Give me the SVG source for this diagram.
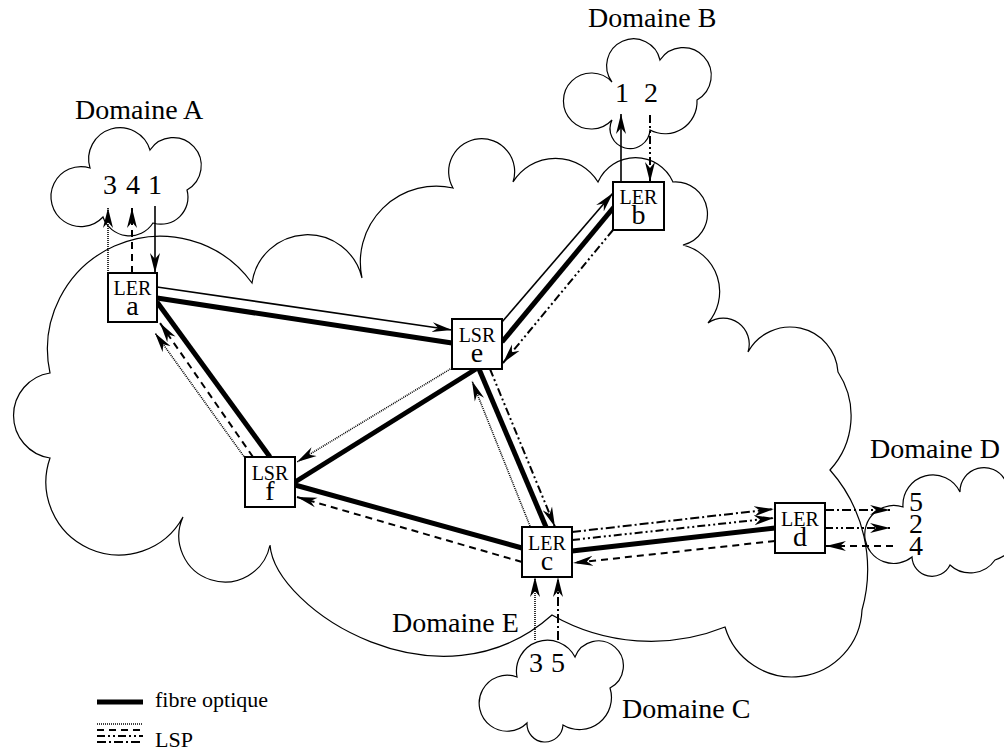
<svg xmlns="http://www.w3.org/2000/svg" width="1004" height="751" viewBox="0 0 1004 751">
  <style>
    text { font-family: "Liberation Serif", "Times New Roman", serif; fill: #000; }
    .dom { font-size: 28px; }
    .num { font-size: 28px; text-anchor: middle; }
    .lbl { text-anchor: middle; }
    .kind { font-size: 20px; }
    .id { font-size: 28px; }
    .leg { font-size: 22px; }
    .cloud { fill: none; stroke: #000; stroke-width: 1.2; }
    .box { fill: #fff; stroke: #000; stroke-width: 2; }
    .fibre { fill: none; stroke: #000; stroke-width: 5; }
    .lsp1 { fill: none; stroke: #000; stroke-width: 1.6; }
    .lsp2 { fill: none; stroke: #000; stroke-width: 2; stroke-dasharray: 8 3 2 3 2 3; }
    .lsp3 { fill: none; stroke: #000; stroke-width: 1.6; stroke-dasharray: 1 1; }
    .lsp4 { fill: none; stroke: #000; stroke-width: 2; stroke-dasharray: 7 5; }
    .lsp5 { fill: none; stroke: #000; stroke-width: 2; stroke-dasharray: 9 3 2 3; }
    .arr { marker-end: url(#head); }
  </style>
  <defs>
    <marker id="head" markerUnits="userSpaceOnUse" markerWidth="21" markerHeight="11" refX="20" refY="5.5" orient="auto">
      <path d="M0,0.5 L20,5.5 L0,10.5 L6,5.5 Z" fill="#000" stroke="none"/>
    </marker>
  </defs>

  <!-- domains (clouds) -->
  <g id="domain-E">
    <path class="cloud" d="M50,373 A113,113 0 0 1 252,283 A56,56 0 0 1 362,278 A76,76 0 0 1 453,188 A33,33 0 1 1 513,182 A50,50 0 0 1 598,182 A41,41 0 0 1 673,182 A32,32 0 0 1 683,245 A48,48 0 0 1 708,323 A26,26 0 0 1 748,352 A48,48 0 0 1 838,372 A80,80 0 0 1 830,470 A150,150 0 0 1 862,610 A70,70 0 0 1 725,627 A199,199 0 0 1 552,615 C440,715 275,610 270,545 A46,46 0 1 1 183,517 A73,73 0 0 1 50,458 A43,43 0 0 1 50,373 Z"/>
    <text class="dom" x="392" y="632">Domaine E</text>
  </g>
  <g id="domain-A">
    <path class="cloud" d="M90,168 A31,31 0 0 1 150,150 A28,28 0 1 1 187,190 A27,27 0 0 1 153,223 A28,28 0 0 1 103,217 A30,30 0 1 1 90,168 Z"/>
    <text class="dom" x="75" y="119">Domaine A</text>
    <text class="num" y="194"><tspan x="110">3</tspan><tspan x="133">4</tspan><tspan x="155">1</tspan></text>
  </g>
  <g id="domain-B">
    <path class="cloud" d="M612,82 A27,27 0 1 1 660,60 A28,28 0 1 1 697,100 A32,32 0 0 1 650,130 A20,20 0 1 1 612,120 A28,28 0 1 1 612,82 Z"/>
    <text class="dom" x="588" y="27">Domaine B</text>
    <text class="num" y="102"><tspan x="622">1</tspan><tspan x="651">2</tspan></text>
  </g>
  <g id="domain-C">
    <path class="cloud" d="M517,677 A31,31 0 0 1 575,657 A25,25 0 1 1 610,688 A32,32 0 0 1 563,725 A18,18 0 0 1 527,723 A28,28 0 1 1 517,677 Z"/>
    <text class="dom" x="622" y="718">Domaine C</text>
    <text class="num" y="672"><tspan x="536">3</tspan><tspan x="558">5</tspan></text>
  </g>
  <g id="domain-D">
    <path class="cloud" d="M903,507 A30,30 0 0 1 960,492 A24,24 0 0 1 1005,480 A45,45 0 0 1 995,560 A30,30 0 0 1 950,565 A20,20 0 0 1 912,557 A29,29 0 1 1 903,507 Z"/>
    <text class="dom" x="870" y="458">Domaine D</text>
    <text class="num"><tspan x="916" y="511">5</tspan><tspan x="916" y="533">2</tspan><tspan x="916" y="555">4</tspan></text>
  </g>

  <!-- links: optical fibres and label switched paths -->
  <g id="connectors">
    <g id="fibres">
      <line class="fibre" x1="157" y1="298" x2="452" y2="343"/>
      <line class="fibre" x1="157" y1="302" x2="270" y2="457"/>
      <line class="fibre" x1="502" y1="342" x2="614" y2="207"/>
      <line class="fibre" x1="476" y1="369" x2="295" y2="482"/>
      <line class="fibre" x1="479" y1="369" x2="546" y2="527"/>
      <line class="fibre" x1="295" y1="485" x2="522" y2="548"/>
      <line class="fibre" x1="572" y1="551" x2="775" y2="528"/>
    </g>
    <!-- LSP 1 : A -> a -> e -> b -> B -->
    <g id="lsp-1">
      <line class="lsp1 arr" x1="155" y1="206" x2="155" y2="273"/>
      <line class="lsp1 arr" x1="157" y1="287" x2="452" y2="330"/>
      <line class="lsp1 arr" x1="502" y1="322" x2="613" y2="193"/>
      <line class="lsp1 arr" x1="621" y1="182" x2="621" y2="114"/>
    </g>
    <!-- LSP 2 : B -> b -> e -> c -> d -> D -->
    <g id="lsp-2">
      <line class="lsp2 arr" x1="650" y1="115" x2="650" y2="182"/>
      <line class="lsp2 arr" x1="613" y1="230" x2="503" y2="363"/>
      <line class="lsp2 arr" x1="490" y1="369" x2="555" y2="527"/>
      <line class="lsp2 arr" x1="572" y1="540" x2="774" y2="518"/>
      <line class="lsp2 arr" x1="825" y1="528" x2="890" y2="528"/>
    </g>
    <!-- LSP 3 : C -> c -> e -> f -> a -> A -->
    <g id="lsp-3">
      <line class="lsp3 arr" x1="535" y1="640" x2="535" y2="577"/>
      <line class="lsp3 arr" x1="530" y1="526" x2="472" y2="381"/>
      <line class="lsp3 arr" x1="452" y1="368" x2="297" y2="462"/>
      <line class="lsp3 arr" x1="245" y1="458" x2="155" y2="333"/>
      <line class="lsp3 arr" x1="108" y1="273" x2="108" y2="208"/>
    </g>
    <!-- LSP 4 : D -> d -> c -> f -> a -> A -->
    <g id="lsp-4">
      <line class="lsp4 arr" x1="893" y1="546" x2="826" y2="546"/>
      <line class="lsp4 arr" x1="775" y1="541" x2="573" y2="563"/>
      <line class="lsp4 arr" x1="522" y1="562" x2="297" y2="497"/>
      <line class="lsp4 arr" x1="253" y1="457" x2="160" y2="323"/>
      <line class="lsp4 arr" x1="132" y1="273" x2="132" y2="208"/>
    </g>
    <!-- LSP 5 : C -> c -> d -> D -->
    <g id="lsp-5">
      <line class="lsp5 arr" x1="558" y1="640" x2="558" y2="577"/>
      <line class="lsp5 arr" x1="572" y1="532" x2="774" y2="509"/>
      <line class="lsp5 arr" x1="825" y1="510" x2="890" y2="510"/>
    </g>
  </g>

  <!-- routers -->
  <g id="node-a">
    <rect class="box" x="108" y="273" width="49" height="49"/>
    <text class="lbl"><tspan class="kind" x="132.5" y="295">LER</tspan><tspan class="id" x="132.5" y="315">a</tspan></text>
  </g>
  <g id="node-b">
    <rect class="box" x="613" y="182" width="51" height="48"/>
    <text class="lbl"><tspan class="kind" x="638.5" y="204">LER</tspan><tspan class="id" x="638.5" y="224">b</tspan></text>
  </g>
  <g id="node-c">
    <rect class="box" x="522" y="527" width="50" height="50"/>
    <text class="lbl"><tspan class="kind" x="547" y="550">LER</tspan><tspan class="id" x="547" y="570">c</tspan></text>
  </g>
  <g id="node-d">
    <rect class="box" x="775" y="503" width="50" height="50"/>
    <text class="lbl"><tspan class="kind" x="800" y="526">LER</tspan><tspan class="id" x="800" y="546">d</tspan></text>
  </g>
  <g id="node-e">
    <rect class="box" x="452" y="319" width="50" height="50"/>
    <text class="lbl"><tspan class="kind" x="477" y="342">LSR</tspan><tspan class="id" x="477" y="362">e</tspan></text>
  </g>
  <g id="node-f">
    <rect class="box" x="245" y="457" width="50" height="50"/>
    <text class="lbl"><tspan class="kind" x="270" y="480">LSR</tspan><tspan class="id" x="270" y="500">f</tspan></text>
  </g>

  <!-- legend -->
  <g id="legend">
    <line class="fibre" x1="97" y1="702" x2="143" y2="702"/>
    <text class="leg" x="155" y="707">fibre optique</text>
    <line class="lsp3" x1="97" y1="724" x2="143" y2="724"/>
    <line class="lsp4" x1="97" y1="730" x2="143" y2="730"/>
    <line class="lsp2" x1="97" y1="736" x2="143" y2="736"/>
    <line class="lsp5" x1="97" y1="742" x2="143" y2="742"/>
    <text class="leg" x="155" y="747">LSP</text>
  </g>
</svg>
